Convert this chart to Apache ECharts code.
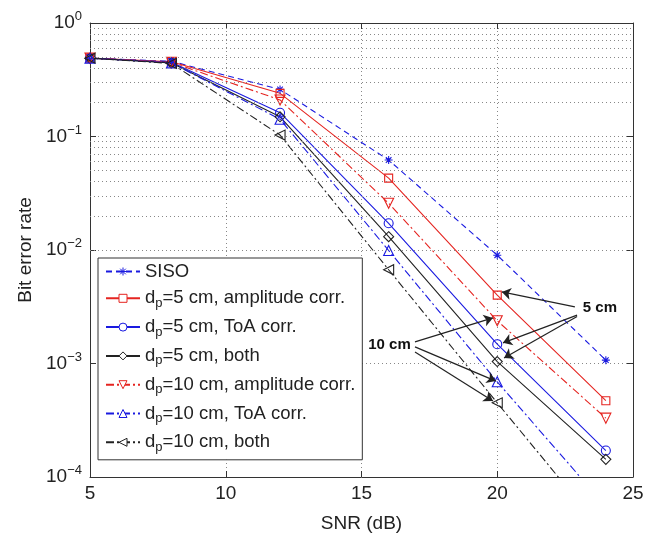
<!DOCTYPE html>
<html>
<head>
<meta charset="utf-8">
<script src="https://cdn.jsdelivr.net/npm/echarts@6/dist/echarts.min.js"></script>
<style>
  html, body { margin: 0; padding: 0; background: #fff; }
  #chart { width: 659px; height: 533px; }
</style>
</head>
<body>
<div id="chart"></div>
<script>
// SNR points (dB)
const snr = [5, 8, 12, 16, 20, 24]
// bit error rate
const siso   = [0.49, 0.46, 0.26, 0.062, 0.0090, 0.00107]
const amp5   = [0.49, 0.455, 0.24, 0.043, 0.0040, 0.00047]
const toa5   = [0.49, 0.45, 0.162, 0.0172, 0.00148, 0.000171]
const both5  = [0.49, 0.445, 0.149, 0.0131, 0.00104, 0.000143]
const amp10  = [0.49, 0.45, 0.21, 0.0258, 0.00238, 0.00033]
const toa10  = [0.49, 0.445, 0.142, 0.0099, 0.00069, 0.000055]
const both10 = [0.49, 0.44, 0.103, 0.0067, 0.00045, 0.000031]

const names = [
  'SISO',
  'dp=5 cm, amplitude corr.',
  'dp=5 cm, ToA corr.',
  'dp=5 cm, both',
  'dp=10 cm, amplitude corr.',
  'dp=10 cm, ToA corr.',
  'dp=10 cm, both'
]

const RED = '#e52420'
const BLUE = '#1a1ae0'
const BLACK = '#222222'
const DASH = [6, 4]
const DASHDOT = [8, 3, 2, 3]
const STAR = 'path://M0,-1L0,1M-1,0L1,0M-0.7,-0.7L0.7,0.7M-0.7,0.7L0.7,-0.7'
const FONT = 'Liberation Sans, Arial, sans-serif'

function pairs(ys) {
  return snr.map((x, i) => [x, ys[i]])
}

function mkSeries(name, ys, color, type, symbol, size, rotate) {
  return {
    name: name,
    type: 'line',
    data: pairs(ys),
    symbol: symbol,
    symbolSize: size,
    symbolRotate: rotate || 0,
    showSymbol: true,
    clip: true,
    animation: false,
    z: 3,
    lineStyle: { color: color, width: 1.1, type: type },
    itemStyle: { color: 'transparent', borderColor: color, borderWidth: 1.1 },
    emphasis: { disabled: true }
  }
}

// minor grid lines 2..9 x 10^k
const minorGrid = []
for (let k = -4; k <= -1; k++) {
  for (let m = 2; m <= 9; m++) minorGrid.push({ yAxis: m * Math.pow(10, k) })
}

// annotation arrows (data coords)
const arrows = [
  [[22.86, 3.15e-3], [20.17, 4.27e-3]],
  [[22.94, 2.67e-3], [20.21, 1.52e-3]],
  [[22.94, 2.6e-3], [20.25, 1.12e-3]],
  [[16.97, 1.55e-3], [19.84, 2.52e-3]],
  [[16.97, 1.40e-3], [19.95, 7.0e-4]],
  [[16.97, 1.26e-3], [19.84, 4.68e-4]]
]

let myChart = echarts.init(document.getElementById('chart'), null, { renderer: 'canvas' })

const axisText = { color: '#222', fontFamily: FONT, fontSize: 19 }

var option = {
  backgroundColor: '#fff',
  animation: false,
  textStyle: { fontFamily: FONT },
  grid: { left: 90, right: 26, top: 23, bottom: 56, containLabel: false, outerBoundsMode: 'none' },
  legend: {
    data: names,
    orient: 'vertical',
    left: 98,
    top: 258,
    padding: [4, 7, 6, 7],
    itemGap: 5.8,
    itemWidth: 34,
    itemHeight: 10,
    backgroundColor: '#fff',
    borderColor: '#333',
    borderWidth: 1,
    borderRadius: 0,
    selectedMode: false,
    itemStyle: { color: '#fff', borderWidth: 1 },
    formatter: function (name) {
      if (name.indexOf('dp') === 0) return '{n|d}{s|p}{n|' + name.slice(2) + '}'
      return '{n|' + name + '}'
    },
    textStyle: {
      rich: {
        n: { fontSize: 18.5, lineHeight: 24, color: '#222', fontFamily: FONT },
        s: { fontSize: 13, lineHeight: 14, color: '#222', padding: [10, 0, 0, 0], fontFamily: FONT }
      }
    }
  },
  xAxis: [
    {
      type: 'value',
      min: 5,
      max: 25,
      interval: 5,
      name: 'SNR (dB)',
      nameLocation: 'middle',
      nameGap: 37,
      nameTextStyle: axisText,
      axisLine: { lineStyle: { color: '#333', width: 1 } },
      axisTick: { inside: true, length: 6, lineStyle: { color: '#333' } },
      axisLabel: Object.assign({ margin: 7 }, axisText),
      splitLine: { show: true, lineStyle: { color: '#888', type: [1, 3], width: 1 } }
    },
    {
      type: 'value',
      position: 'top',
      min: 5,
      max: 25,
      interval: 5,
      axisLine: { lineStyle: { color: '#333', width: 1 } },
      axisTick: { inside: true, length: 6, lineStyle: { color: '#333' } },
      axisLabel: { show: false },
      splitLine: { show: false }
    }
  ],
  yAxis: [
    {
      type: 'log',
      logBase: 10,
      min: 1e-4,
      max: 1,
      name: 'Bit error rate',
      nameLocation: 'middle',
      nameGap: 39,
      nameTextStyle: axisText,
      axisLine: { show: true, lineStyle: { color: '#333', width: 1 } },
      axisTick: { show: true, inside: true, length: 6, lineStyle: { color: '#333' } },
      axisLabel: {
        margin: 8,
        formatter: function (v) {
          const e = Math.round(Math.log10(v))
          return '{b|10}{e|' + (e === 0 ? '0' : '\u2212' + (-e)) + '}'
        },
        rich: {
          b: { fontSize: 19, color: '#222', fontFamily: FONT },
          e: { fontSize: 13, color: '#222', padding: [0, 0, 13, 0], fontFamily: FONT }
        }
      },
      splitLine: { show: true, lineStyle: { color: '#888', type: [1, 3], width: 1 } }
    },
    {
      type: 'log',
      logBase: 10,
      position: 'right',
      min: 1e-4,
      max: 1,
      axisLine: { show: true, lineStyle: { color: '#333', width: 1 } },
      axisTick: { show: true, inside: true, length: 6, lineStyle: { color: '#333' } },
      axisLabel: { show: false },
      splitLine: { show: false }
    }
  ],
  series: [
    {
      name: 'helper',
      type: 'line',
      data: [],
      silent: true,
      z: 1,
      markLine: {
        silent: true,
        symbol: 'none',
        animation: false,
        label: { show: false },
        lineStyle: { color: '#888', type: [1, 3], width: 1 },
        emphasis: { disabled: true },
        data: minorGrid
      }
    },
    mkSeries(names[0], siso, BLUE, DASH, STAR, 8),
    mkSeries(names[1], amp5, RED, 'solid', 'rect', 8),
    mkSeries(names[2], toa5, BLUE, 'solid', 'circle', 9),
    mkSeries(names[3], both5, BLACK, 'solid', 'diamond', 10),
    mkSeries(names[4], amp10, RED, DASHDOT, 'triangle', 10, 180),
    mkSeries(names[5], toa10, BLUE, DASHDOT, 'triangle', 10),
    mkSeries(names[6], both10, BLACK, DASHDOT, 'triangle', 10, 90),
    {
      name: 'annot',
      type: 'line',
      data: [],
      silent: true,
      z: 5,
      markLine: {
        silent: true,
        animation: false,
        symbol: ['none', 'arrow'],
        symbolSize: 9,
        label: { show: false },
        lineStyle: { color: '#222', width: 1.2, type: 'solid' },
        emphasis: { disabled: true },
        data: arrows.map(a => [{ coord: a[0] }, { coord: a[1] }])
      },
      markPoint: {
        silent: true,
        animation: false,
        symbol: 'circle',
        symbolSize: 0,
        label: {
          show: true,
          position: 'inside',
          fontSize: 15,
          fontWeight: 'bold',
          color: '#111'
        },
        data: [
          { coord: [23.78, 3.08e-3], value: '5 cm' },
          { coord: [16.03, 1.46e-3], value: '10 cm' }
        ]
      }
    }
  ]
}

myChart.setOption(option)
window.onresize = myChart.resize
</script>
</body>
</html>
